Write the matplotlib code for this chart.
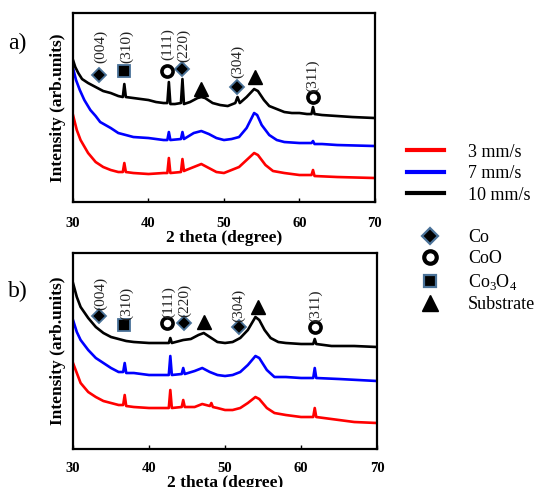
import matplotlib
matplotlib.use("Agg")
import matplotlib.pyplot as plt
from matplotlib.lines import Line2D

plt.rcParams['font.family'] = 'serif'
plt.rcParams['font.serif'] = ['Liberation Serif', 'DejaVu Serif']
plt.rcParams['mathtext.fontset'] = 'custom'
plt.rcParams['mathtext.rm'] = 'Liberation Serif'

# ---- data: panel a) ----
a_black_x = [30, 30.3, 30.7, 31.2, 32, 33, 34, 35, 36, 36.6, 36.8, 37.0, 38, 39, 40, 41, 42, 42.5,
             42.7, 42.9, 43.5, 44.3, 44.5, 44.7, 45.5, 46.5, 47, 47.5, 48.5, 49.5, 50.5, 51.5, 51.8,
             52.1, 53, 54, 54.5, 55.3, 56, 57, 58, 59, 60, 61, 61.6, 61.8, 62, 63, 65, 67, 70]
a_black_y = [142, 135, 129, 123, 119, 115, 111, 109, 106, 105, 118, 105, 104, 103, 102, 100, 99, 99,
             120, 98, 98, 99, 123, 98, 100, 104, 105, 104, 99, 97, 96, 99, 105,
             99, 105, 113, 111, 102, 96, 93, 90, 89, 89, 88, 88, 95, 88, 87, 86, 85, 84]

a_blue_x = [30, 30.4, 30.9, 31.5, 32.3, 33, 33.6, 34.3, 35, 36, 37, 38, 40, 42, 42.5, 42.7, 42.9,
            44.3, 44.5, 44.7, 46, 47, 48, 49, 50, 51, 52, 53, 54, 54.4, 55, 56, 57, 58, 60, 61.6,
            61.8, 62, 63, 65, 70]
a_blue_y = [134, 122, 112, 102, 92, 86, 80, 77, 74, 69, 67, 65, 64, 62, 62, 70, 62,
            63, 70, 63, 69, 71, 68, 64, 62, 63, 65, 74, 89, 87, 77, 67, 62, 60, 59, 59,
            61, 58, 58, 57, 56]

a_red_x = [30, 30.5, 31, 32, 33, 34, 35, 36, 36.6, 36.8, 37.0, 38, 40, 42, 42.5, 42.7, 42.9,
           44.3, 44.5, 44.7, 45, 46, 47, 48, 49, 50, 51, 52, 53, 54, 54.5, 55.5, 56.5, 58, 60,
           61.6, 61.8, 62, 65, 70]
a_red_y = [87, 72, 62, 49, 40, 35, 32, 30, 30, 39, 30, 29, 28, 29, 29, 44, 29,
           30, 43, 31, 32, 35, 38, 34, 30, 29, 32, 35, 42, 49, 47, 37, 31, 29, 27,
           27, 32, 26, 25, 24]

# ---- data: panel b) ----
b_black_x = [30, 30.5, 31, 32, 33, 34, 35, 36, 37, 38, 40, 42, 42.6, 42.8, 43.0, 44.5, 45.5, 46.5,
             47.2, 48, 49, 50, 51, 52, 53, 54, 54.5, 55.2, 56, 57, 58, 60, 61.6, 61.8, 62, 64, 67, 70]
b_black_y = [166, 152, 142, 131, 122, 116, 112, 110, 108, 107, 106, 106, 106, 111, 106, 109, 110, 114,
             116, 112, 107, 106, 107, 111, 119, 132, 129, 119, 111, 107, 106, 105, 105, 110, 105, 103, 103, 102]

b_blue_x = [30, 30.5, 31, 32, 33, 34, 35, 36, 36.6, 36.8, 37.0, 38, 40, 42, 42.6, 42.8, 43.0,
            44.3, 44.5, 44.7, 46, 47, 48, 49, 50, 51, 52, 53, 54, 54.5, 55.5, 56.5, 58, 60,
            61.6, 61.8, 62, 65, 70]
b_blue_y = [129, 117, 109, 99, 91, 86, 81, 77, 77, 86, 76, 76, 74, 74, 74, 93, 74,
            75, 81, 75, 78, 81, 77, 74, 73, 74, 77, 84, 93, 91, 79, 72, 72, 71,
            71, 81, 71, 70, 68]

b_red_x = [30, 30.5, 31, 32, 33, 34, 35, 36, 36.6, 36.8, 37.0, 38, 40, 42, 42.6, 42.8, 43.0,
           44.3, 44.5, 44.7, 46, 47, 48, 48.2, 48.4, 49, 50, 51, 52, 53, 54, 54.5, 55.5, 56.5,
           58, 60, 61.6, 61.8, 62, 65, 67, 70]
b_red_y = [86, 76, 66, 57, 52, 48, 46, 44, 44, 54, 43, 42, 41, 41, 41, 59, 41,
           42, 49, 42, 42, 45, 43, 46, 42, 41, 39, 39, 41, 46, 52, 50, 41, 36,
           34, 32, 32, 41, 32, 29, 27, 26]

# phase markers (x = 2 theta, y = intensity)
a_co_x, a_co_y = [33.4, 44.4, 51.7], [127, 133, 115]
a_coo_x, a_coo_y = [42.4, 61.8], [131, 105]
a_co3o4_x, a_co3o4_y = [36.8], [131]
a_sub_x, a_sub_y = [47.0, 54.1], [113, 125]

b_co_x, b_co_y = [33.4, 44.6, 51.8], [133, 126, 122]
b_coo_x, b_coo_y = [42.4, 61.9], [126, 122]
b_co3o4_x, b_co3o4_y = [36.7], [124]
b_sub_x, b_sub_y = [47.2, 54.3], [127, 142]

hkl = ["(004)", "(310)", "(111)", "(220)", "(304)", "(311)"]
a_hkl_x = [33.6, 37.1, 42.6, 44.6, 51.8, 61.8]
a_hkl_y = [139, 139, 142, 140, 124, 110]
b_hkl_x = [33.6, 37.1, 42.6, 44.7, 51.8, 61.9]
b_hkl_y = [139, 129, 131, 132, 127, 127]

speeds = ["3 mm/s", "7 mm/s", "10 mm/s"]
colors = ["#ff0000", "#0000ff", "#000000"]
edge = "#4a7298"

fig = plt.figure(figsize=(5.42, 4.87), dpi=100)
ax1 = fig.add_axes([0.1347, 0.5852, 0.557, 0.388])
ax2 = fig.add_axes([0.1347, 0.078, 0.561, 0.4025])

panels = [
    (ax1, [(a_red_x, a_red_y), (a_blue_x, a_blue_y), (a_black_x, a_black_y)],
     (a_co_x, a_co_y), (a_coo_x, a_coo_y), (a_co3o4_x, a_co3o4_y), (a_sub_x, a_sub_y),
     a_hkl_x, a_hkl_y, 189, "a)", 0.84, 10.5),
    (ax2, [(b_red_x, b_red_y), (b_blue_x, b_blue_y), (b_black_x, b_black_y)],
     (b_co_x, b_co_y), (b_coo_x, b_coo_y), (b_co3o4_x, b_co3o4_y), (b_sub_x, b_sub_y),
     b_hkl_x, b_hkl_y, 196, "b)", 0.806, 9),
]

for ax, curves, co, coo, co3o4, sub, hx, hy, ytop, tag, tag_y, tpad in panels:
    for (x, y), c in zip(curves, colors):
        ax.plot(x, y, color=c, lw=1.9)
    ax.plot(co[0], co[1], 'D', ms=7, mfc='black', mec=edge, mew=1.3, ls='none')
    ax.plot(coo[0], coo[1], 'o', ms=8, mfc='white', mec='black', mew=2.6, ls='none')
    ax.plot(co3o4[0], co3o4[1], 's', ms=8, mfc='black', mec=edge, mew=1.3, ls='none')
    ax.plot(sub[0], sub[1], '^', ms=10, color='black', ls='none')
    for t, x, y in zip(hkl, hx, hy):
        ax.text(x, y, t, rotation=90, ha='center', va='bottom', fontsize=11, color='#222222')
    ax.set_xlim(30, 70)
    ax.set_ylim(0, ytop)
    ax.set_xticks([30, 40, 50, 60, 70])
    ax.set_yticks([])
    ax.tick_params(axis='x', direction='in', length=3, width=1, pad=tpad, top=False)
    for lab in ax.get_xticklabels():
        lab.set_fontweight('bold')
        lab.set_fontsize(10.5)
    for s in ax.spines.values():
        s.set_linewidth(1.6)
    ax.set_xlabel("2 theta (degree)", fontsize=12.5, fontweight='bold', labelpad=0)
    ax.set_ylabel("Intensity (arb.units)", fontsize=12.5, fontweight='bold', labelpad=5)
    ax.text(-0.215, tag_y, tag, transform=ax.transAxes, fontsize=17, va='center', ha='left')

line_handles = [Line2D([], [], color=c, lw=3) for c in colors]
fig.legend(line_handles, speeds, loc='upper left', bbox_to_anchor=(0.751, 0.705),
           frameon=False, fontsize=13, handlelength=2.05, handletextpad=1.3,
           labelspacing=0.25, borderpad=0, borderaxespad=0)

marker_handles = [
    Line2D([], [], marker='D', ms=8, mfc='black', mec=edge, mew=1.6, ls='none'),
    Line2D([], [], marker='o', ms=9, mfc='white', mec='black', mew=3, ls='none'),
    Line2D([], [], marker='s', ms=8.5, mfc='black', mec=edge, mew=1.6, ls='none'),
    Line2D([], [], marker='^', ms=11, color='black', ls='none'),
]
marker_labels = ["Co", "CoO", r"Co$_\mathrm{3}$O$_\mathrm{4}$", "Substrate"]
fig.legend(marker_handles, marker_labels, loc='upper left', bbox_to_anchor=(0.771, 0.530),
           frameon=False, fontsize=13, handlelength=1.33, handletextpad=1.44, numpoints=1,
           labelspacing=0.25, borderpad=0, borderaxespad=0)

fig.savefig("out.png", dpi=100)
